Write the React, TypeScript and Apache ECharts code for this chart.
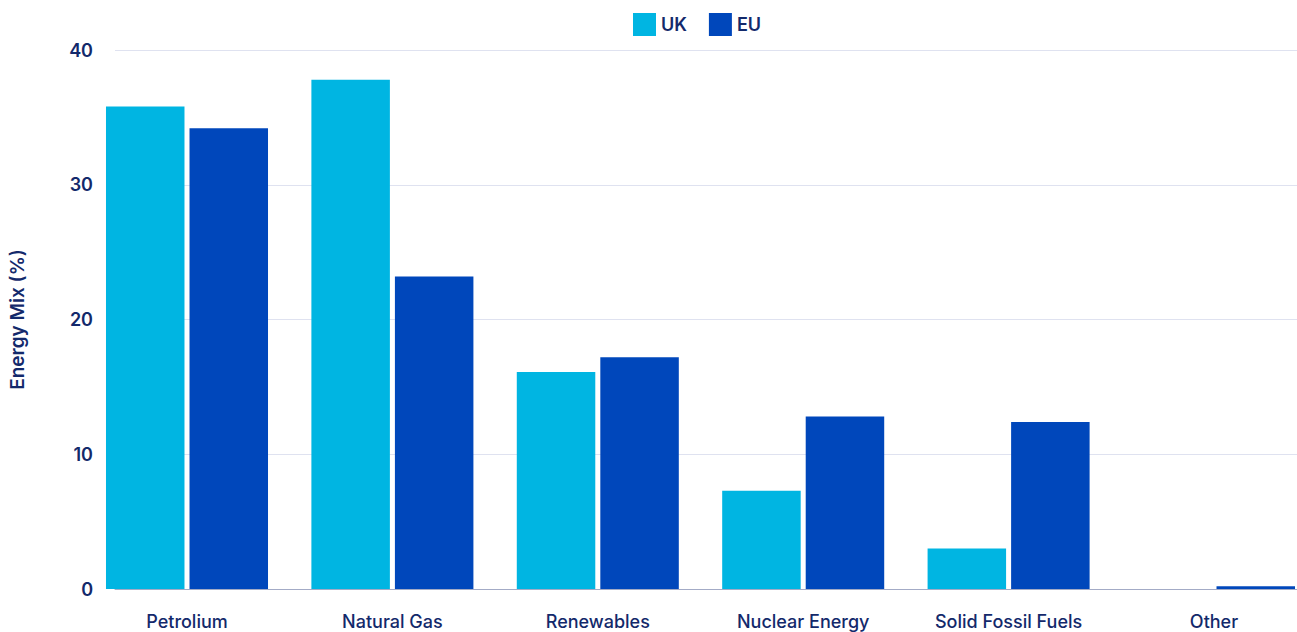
import React, { useEffect, useRef } from "react";
import * as echarts from "echarts";

const categories = ["Petrolium", "Natural Gas", "Renewables", "Nuclear Energy", "Solid Fossil Fuels", "Other"];
const ukValues = [35.8, 37.8, 16.1, 7.3, 3.0, 0];
const euValues = [34.2, 23.2, 17.2, 12.8, 12.4, 0.2];
const yTicks = [0, 10, 20, 30, 40];

const NAVY = "#13296b";
const UK_COLOR = "#00b5e2";
const EU_COLOR = "#0047bb";
const FONT = "Inter, 'Noto Sans', sans-serif";

// The chart canvas is a little wider than the visible frame; the last
// category band runs past the right edge and is cut off.
const VIEW_W = 1297;
const CHART_W = 1320;
const CHART_H = 632;

export default function App() {
  const ref = useRef<HTMLDivElement>(null);

  useEffect(() => {
    if (!ref.current) return;
    const chart = echarts.init(ref.current, undefined, { renderer: "svg" });
    const yMin = yTicks[0];
    const yMax = yTicks[yTicks.length - 1];
    chart.setOption({
      animation: false,
      legend: {
        left: 628,
        top: 8,
        itemWidth: 23,
        itemHeight: 23,
        itemGap: 22,
        icon: "rect",
        textStyle: { color: NAVY, fontSize: 18, fontWeight: 600, fontFamily: FONT },
        data: ["UK", "EU"],
      },
      grid: [
        // bars
        { left: 84.3, right: CHART_W - 1316.7, top: 50, height: 539 },
        // gridlines, axis line and value labels
        { left: 106, right: CHART_W - VIEW_W, top: 50, height: 539 },
      ],
      xAxis: [
        {
          gridIndex: 0,
          type: "category",
          data: categories,
          axisLine: { show: false },
          axisTick: { show: false },
          axisLabel: { color: NAVY, fontSize: 18, fontWeight: 500, fontFamily: FONT, margin: 23 },
        },
        {
          gridIndex: 1,
          type: "value",
          min: 0,
          max: 1,
          axisLine: { show: true, onZero: false, lineStyle: { color: "#a3abc6", width: 1 } },
          axisTick: { show: false },
          axisLabel: { show: false },
          splitLine: { show: false },
        },
      ],
      yAxis: [
        {
          gridIndex: 0,
          type: "value",
          min: yMin,
          max: yMax,
          interval: 10,
          axisLine: { show: false },
          axisTick: { show: false },
          axisLabel: { show: false },
          splitLine: { show: false },
        },
        {
          gridIndex: 1,
          type: "value",
          min: yMin,
          max: yMax,
          interval: 10,
          name: "Energy Mix (%)",
          nameLocation: "middle",
          nameRotate: 90,
          nameGap: 88,
          nameTextStyle: { color: NAVY, fontSize: 19, fontWeight: 600, fontFamily: FONT },
          axisLine: { show: false },
          axisTick: { show: false },
          axisLabel: { color: NAVY, fontSize: 18, fontWeight: 600, fontFamily: FONT, margin: 22 },
          splitLine: { show: true, lineStyle: { color: "#dfe2f0", width: 1 } },
        },
      ],
      series: [
        {
          name: "UK",
          type: "bar",
          xAxisIndex: 0,
          yAxisIndex: 0,
          data: ukValues,
          barWidth: 78.5,
          barGap: "6.4%",
          itemStyle: { color: UK_COLOR },
          z: 3,
        },
        {
          name: "EU",
          type: "bar",
          xAxisIndex: 0,
          yAxisIndex: 0,
          data: euValues,
          barWidth: 78.5,
          barGap: "6.4%",
          itemStyle: { color: EU_COLOR },
          z: 3,
        },
      ],
    });
    return () => chart.dispose();
  }, []);

  return (
    <div
      style={{
        position: "fixed",
        left: 0,
        top: 0,
        width: VIEW_W,
        height: CHART_H,
        overflow: "hidden",
        background: "#ffffff",
      }}
    >
      <div ref={ref} style={{ width: CHART_W, height: CHART_H }} />
    </div>
  );
}
